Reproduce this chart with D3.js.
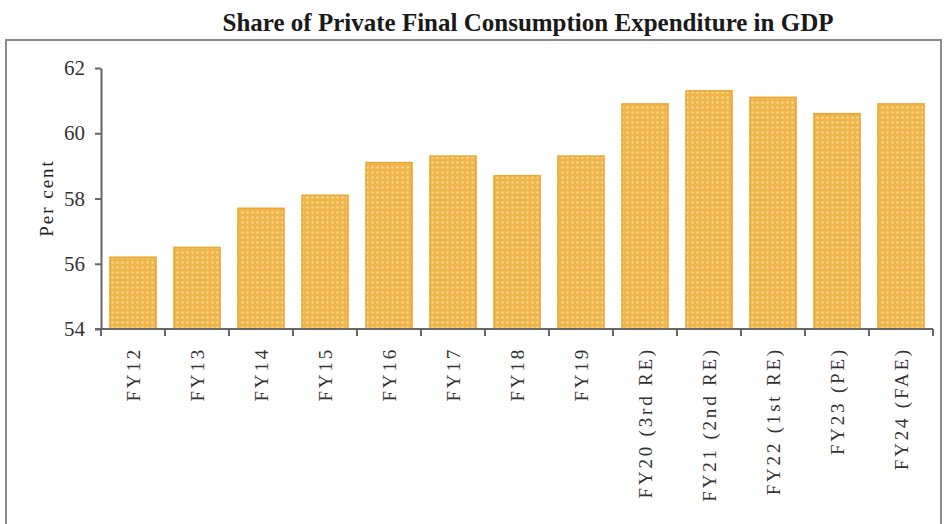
<!DOCTYPE html>
<html><head><meta charset="utf-8">
<script src="https://cdn.jsdelivr.net/npm/d3@7"></script>
<style>body{margin:0;background:#fff}svg{display:block}
svg text{font-family:"Liberation Serif","Times New Roman","DejaVu Serif",serif !important}</style>
</head><body>
<svg id="c" width="946" height="524"></svg>
<script>
const categories = ["FY12","FY13","FY14","FY15","FY16","FY17","FY18","FY19","FY20 (3rd RE)","FY21 (2nd RE)","FY22 (1st RE)","FY23 (PE)","FY24 (FAE)"];
const values = [56.2,56.5,57.7,58.1,59.1,59.3,58.7,59.3,60.9,61.3,61.1,60.6,60.9];
const yTicks = [54,56,58,60,62];
const titleText = "Share of Private Final Consumption Expenditure in GDP";
const yLabel = "Per cent";

const svg = d3.select("#c");
const defs = svg.append("defs");
const pat = defs.append("pattern").attr("id","dots").attr("patternUnits","userSpaceOnUse")
  .attr("width",5).attr("height",5);
pat.append("rect").attr("width",5).attr("height",5).attr("fill","#F1B64A");
pat.append("circle").attr("cx",2.5).attr("cy",2.5).attr("r",1.2).attr("fill","#F8D894");

// frame
svg.append("rect").attr("x",6).attr("y",40).attr("width",935).attr("height",500)
  .attr("fill","none").attr("stroke","#8a8a8a").attr("stroke-width",2);

svg.append("text").attr("x",528).attr("y",31).attr("text-anchor","middle")
  .attr("font-weight","bold")
  .attr("font-size",25).attr("fill","#1a1a1a")
  .attr("textLength",611).attr("lengthAdjust","spacingAndGlyphs").text(titleText);

const x = d3.scaleBand().domain(categories).range([101,933]).paddingInner(0.28).paddingOuter(0.14);
const y = d3.scaleLinear().domain([54,62]).range([329,68]);

const gy = svg.append("g").attr("transform","translate(101,0)")
  .call(d3.axisLeft(y).tickValues(yTicks).tickSize(6).tickSizeOuter(0).tickPadding(10));
gy.attr("font-family",null);
gy.select(".domain").attr("stroke","#666").attr("stroke-width",2);
gy.selectAll(".tick line").attr("stroke","#666").attr("stroke-width",2);
gy.selectAll(".tick text").attr("font-size",21).attr("fill","#333");

svg.append("g").selectAll("rect").data(values).join("rect")
  .attr("x",(d,i)=>x(categories[i])).attr("width",x.bandwidth())
  .attr("y",d=>y(d)).attr("height",d=>y(54)-y(d))
  .attr("fill","url(#dots)").attr("stroke","#E9A634").attr("stroke-width",1.5);

const gx = svg.append("g").attr("transform","translate(0,329)")
  .call(d3.axisBottom(x).tickSize(0).tickPadding(0));
gx.attr("font-family",null);
gx.select(".domain").remove();
gx.selectAll(".tick text").attr("font-size",19)
  .attr("fill","#333").attr("letter-spacing","2.8px")
  .attr("transform","rotate(-90)").attr("text-anchor","end").attr("dy","0.35em").attr("x",-18).attr("y",0);
// separator ticks between bands
const edges = d3.range(categories.length+1).map(i => 101 + i*(832/categories.length));
svg.append("g").selectAll("line").data(edges).join("line")
  .attr("x1",d=>d).attr("x2",d=>d).attr("y1",329).attr("y2",336)
  .attr("stroke","#666").attr("stroke-width",2);
svg.append("line").attr("x1",95).attr("x2",933).attr("y1",329).attr("y2",329)
  .attr("stroke","#666").attr("stroke-width",2);

svg.append("text").attr("transform","translate(53,198) rotate(-90)").attr("text-anchor","middle")
  .attr("font-size",19).attr("letter-spacing","2px")
  .attr("fill","#222").text(yLabel);
</script>
</body></html>
